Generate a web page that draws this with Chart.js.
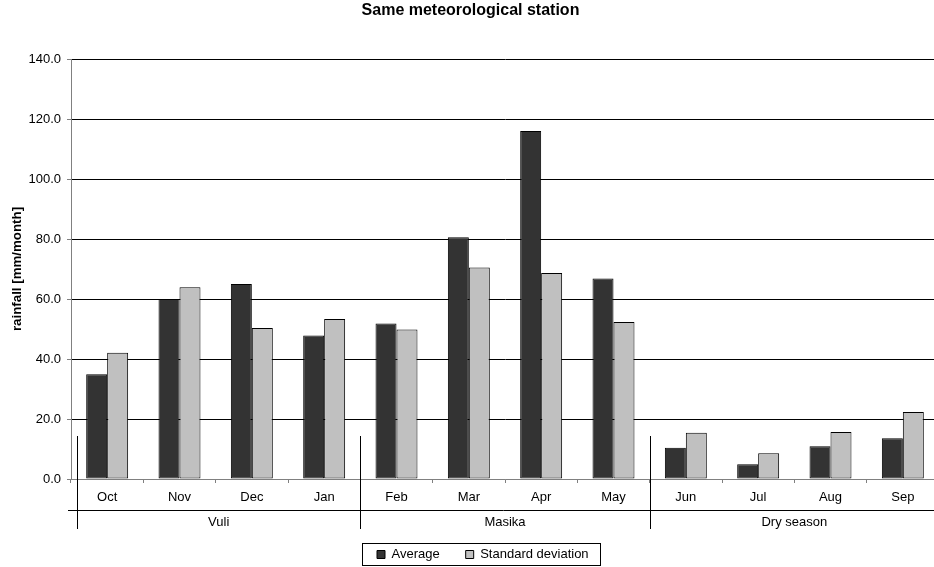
<!DOCTYPE html>
<html>
<head>
<meta charset="utf-8">
<script src="https://cdn.jsdelivr.net/npm/chart.js@4/dist/chart.umd.min.js"></script>
<style>
html,body{margin:0;padding:0;width:934px;height:567px;overflow:hidden;background:#fff;}
#wrap{position:absolute;left:2px;top:0;width:937px;height:600px;}
</style>
</head>
<body>
<div id="wrap"><canvas id="c" width="937" height="600"></canvas></div>
<script>
// ---- data ----
const months = ['Oct','Nov','Dec','Jan','Feb','Mar','Apr','May','Jun','Jul','Aug','Sep'];
const average = [34.9, 60.0, 65.0, 47.8, 51.8, 80.6, 116.0, 66.8, 10.4, 4.9, 10.9, 13.6];
const stdDev  = [42.1, 63.9, 50.3, 53.3, 49.8, 70.5, 68.7, 52.3, 15.4, 8.6, 15.7, 22.3];
const seasons = ['Vuli', 'Masika', 'Dry season'];
const seasonSizes = [4, 4, 4];
const seriesNames = ['Average', 'Standard deviation'];
const chartTitle = 'Same meteorological station';
const yTitle = 'rainfall [mm/month]';
const yMin = 0, yMax = 140, yStep = 20;

const FAMILY = '"Liberation Sans", Arial, sans-serif';
Chart.defaults.font.family = FAMILY;
Chart.defaults.color = '#000';

const legendShift = {
  id: 'legendShift',
  afterLayout(chart) {
    const lg = chart.legend;
    if (!lg || !lg.lineWidths) return;
    const pad = lg.options.labels.padding;
    const start = (lg.left + pad + lg.right - lg.lineWidths[0]) / 2;
    const d = 375 - start;
    lg.left += d; lg.right += d;
  }
};

const seasonAxis = {
  id: 'seasonAxis',
  afterDraw(chart) {
    const xs = chart.scales.x;
    const ctx = chart.ctx;
    const catW = xs.getPixelForValue(1) - xs.getPixelForValue(0);
    const edge = i => xs.getPixelForValue(i) - catW / 2;
    ctx.save();
    ctx.strokeStyle = '#000';
    ctx.lineWidth = 1;
    const hy = xs.top + 31.5;
    ctx.beginPath();
    ctx.moveTo(xs.left - 3, hy);
    ctx.lineTo(chart.width, hy);
    ctx.stroke();
    let idx = 0;
    const seps = [];
    for (let g = 0; g <= seasons.length; g++) {
      let px = (idx < months.length) ? edge(idx) : edge(months.length - 1) + catW;
      if (idx === 0) px += 6;
      seps.push(px);
      if (g < seasons.length) idx += seasonSizes[g];
    }
    for (let g = 0; g < seps.length; g++) {
      const px = Math.round(seps[g]) + 0.5;
      if (px > chart.width) continue;
      ctx.beginPath();
      ctx.moveTo(px, xs.top - 43);
      ctx.lineTo(px, xs.top + 50);
      ctx.stroke();
    }
    ctx.fillStyle = '#000';
    ctx.font = '13px ' + FAMILY;
    ctx.textAlign = 'center';
    ctx.textBaseline = 'middle';
    for (let g = 0; g < seasons.length; g++) {
      ctx.fillText(seasons[g], (seps[g] + seps[g + 1]) / 2, xs.top + 43.5);
    }
    const lg = chart.legend;
    const hb = lg.legendHitBoxes;
    if (hb && hb.length) {
      const l = Math.round(hb[0].left - 15) + 0.5;
      const last = hb[hb.length - 1];
      const r = Math.round(last.left + last.width + 11) + 0.5;
      const cy = hb[0].top + hb[0].height / 2;
      const t = Math.round(cy - 12) + 0.5;
      const b = Math.round(cy + 10) + 0.5;
      ctx.strokeRect(l, t, r - l, b - t);
    }
    ctx.restore();
  }
};

new Chart(document.getElementById('c'), {
  type: 'bar',
  data: {
    labels: months,
    datasets: [
      { label: seriesNames[0], data: average, backgroundColor: '#333333', borderColor: '#000000', borderWidth: 1, borderSkipped: false },
      { label: seriesNames[1], data: stdDev, backgroundColor: '#c0c0c0', borderColor: '#000000', borderWidth: 1, borderSkipped: false }
    ]
  },
  options: {
    responsive: false,
    animation: false,
    devicePixelRatio: 1,
    layout: { padding: { left: 0, right: 0, top: 0, bottom: 29 } },
    datasets: { bar: { categoryPercentage: 0.58, barPercentage: 1.0 } },
    plugins: {
      tooltip: { enabled: false },
      title: {
        display: true,
        text: chartTitle,
        color: '#000',
        font: { size: 16, weight: 'bold', family: FAMILY, lineHeight: 1.2 },
        padding: { top: 1, bottom: 38.8 }
      },
      legend: {
        display: true,
        position: 'bottom',
        labels: {
          color: '#000',
          font: { size: 13, family: FAMILY },
          boxWidth: 8,
          boxHeight: 8,
          padding: 26
        }
      }
    },
    scales: {
      x: {
        grid: { offset: true, drawOnChartArea: false, tickLength: 4, color: '#808080' },
        border: { color: '#808080', width: 1 },
        ticks: { color: '#000', font: { size: 13, family: FAMILY }, padding: 6.5, maxRotation: 0, autoSkip: false },
        afterFit: s => { s.height = 43; }
      },
      y: {
        min: yMin, max: yMax,
        ticks: { stepSize: yStep, color: '#000', font: { size: 13, family: FAMILY }, padding: 6,
                 callback: v => Number(v).toFixed(1) },
        grid: { color: c => (c.tick && c.tick.value === 0) ? '#808080' : '#000000', tickColor: '#808080', tickLength: 4, lineWidth: 1 },
        border: { color: '#808080', width: 1 },
        title: { display: true, text: yTitle, color: '#000',
                 font: { size: 13.3, weight: 'bold', family: FAMILY, lineHeight: 1.2 },
                 padding: { top: 7, bottom: 0 } },
        afterFit: s => { s.width = 69; }
      }
    }
  },
  plugins: [legendShift, seasonAxis]
});
</script>
</body>
</html>
